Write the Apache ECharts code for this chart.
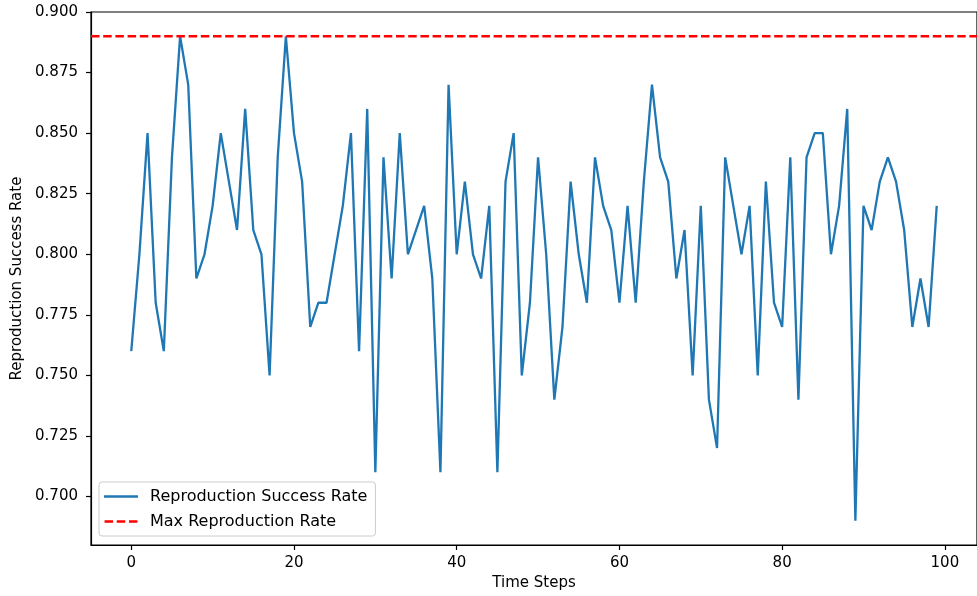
<!DOCTYPE html>
<html>
<head>
<meta charset="utf-8">
<script src="https://cdn.jsdelivr.net/npm/echarts@6/dist/echarts.min.js"></script>
<style>
html, body { margin: 0; padding: 0; background: #fff; }
#chart { width: 977px; height: 596px; }
</style>
</head>
<body>
<div id="chart"></div>
<script>
// values, one per time step (0..99)
const successRate = [
    0.76, 0.80, 0.85, 0.78, 0.76, 0.84, 0.89, 0.87, 0.79, 0.80,
    0.82, 0.85, 0.83, 0.81, 0.86, 0.81, 0.80, 0.75, 0.84, 0.89,
    0.85, 0.83, 0.77, 0.78, 0.78, 0.80, 0.82, 0.85, 0.76, 0.86,
    0.71, 0.84, 0.79, 0.85, 0.80, 0.81, 0.82, 0.79, 0.71, 0.87,
    0.80, 0.83, 0.80, 0.79, 0.82, 0.71, 0.83, 0.85, 0.75, 0.78,
    0.84, 0.80, 0.74, 0.77, 0.83, 0.80, 0.78, 0.84, 0.82, 0.81,
    0.78, 0.82, 0.78, 0.83, 0.87, 0.84, 0.83, 0.79, 0.81, 0.75,
    0.82, 0.74, 0.72, 0.84, 0.82, 0.80, 0.82, 0.75, 0.83, 0.78,
    0.77, 0.84, 0.74, 0.84, 0.85, 0.85, 0.80, 0.82, 0.86, 0.69,
    0.82, 0.81, 0.83, 0.84, 0.83, 0.81, 0.77, 0.79, 0.77, 0.82
];
const maxRate = 0.89;
const xRange = [-4.95, 103.95];
const yRange = [0.68, 0.90];
const xTicks = [0, 20, 40, 60, 80, 100];
const yTicks = [0.700, 0.725, 0.750, 0.775, 0.800, 0.825, 0.850, 0.875, 0.900];

const font = 'DejaVu Sans';
const chart = echarts.init(document.getElementById('chart'));

const lineData = successRate.map((v, i) => [i, v]);
const maxData = [[xRange[0], maxRate], [xRange[1], maxRate]];

// legend handles drawn as plain strokes (solid / dashed)
const solidIcon = 'path://M0,0H34V2.3H0Z';
const dashIcon = 'path://M0,0H8.5V2.3H0Z M12.2,0H20.7V2.3H12.2Z M24.4,0H32.9V2.3H24.4Z';

const option = {
    animation: false,
    backgroundColor: '#fff',
    textStyle: { fontFamily: font },
    grid: {
        left: 91, top: 12, width: 898, height: 533,
        show: true, borderColor: '#000', borderWidth: 1.2,
        backgroundColor: 'transparent'
    },
    legend: {
        orient: 'vertical', left: 99, top: 482,
        padding: [5, 8, 5, 5],
        itemWidth: 34, itemHeight: 2.3, itemGap: 6,
        backgroundColor: 'rgba(255,255,255,0.8)',
        borderColor: '#cccccc', borderWidth: 1, borderRadius: 3,
        textStyle: { fontSize: 16, color: '#000', fontFamily: font, padding: [0, 0, 0, 7], lineHeight: 19 },
        data: [
            { name: 'Reproduction Success Rate', icon: solidIcon },
            { name: 'Max Reproduction Rate', icon: dashIcon }
        ]
    },
    xAxis: {
        type: 'value', min: xRange[0], max: xRange[1],
        name: 'Time Steps', nameLocation: 'middle', nameGap: 31,
        nameTextStyle: { fontSize: 15, color: '#000', fontFamily: font },
        axisLine: { show: true, onZero: false, lineStyle: { color: '#000', width: 1.2 } },
        axisTick: { show: true, length: 5, customValues: xTicks, lineStyle: { color: '#000', width: 1.2 } },
        axisLabel: { customValues: xTicks, margin: 11, fontSize: 15, color: '#000', fontFamily: font },
        splitLine: { show: false }
    },
    yAxis: {
        type: 'value', min: yRange[0], max: yRange[1],
        name: 'Reproduction Success Rate', nameLocation: 'middle', nameGap: 66,
        nameTextStyle: { fontSize: 15, color: '#000', fontFamily: font },
        axisLine: { show: true, onZero: false, lineStyle: { color: '#000', width: 1.2 } },
        axisTick: { show: true, length: 5, customValues: yTicks, lineStyle: { color: '#000', width: 1.2 } },
        axisLabel: {
            customValues: yTicks, margin: 13, fontSize: 15, color: '#000', fontFamily: font,
            formatter: v => v.toFixed(3)
        },
        splitLine: { show: false }
    },
    series: [
        {
            name: 'Reproduction Success Rate',
            type: 'line',
            symbol: 'none',
            data: lineData,
            color: '#1f77b4',
            lineStyle: { color: '#1f77b4', width: 2.3 }
        },
        {
            name: 'Max Reproduction Rate',
            type: 'line',
            symbol: 'none',
            data: maxData,
            color: '#ff0000',
            lineStyle: { color: '#ff0000', width: 2.3, type: [8.5, 3.7] }
        }
    ]
};
chart.setOption(option);
</script>
</body>
</html>
